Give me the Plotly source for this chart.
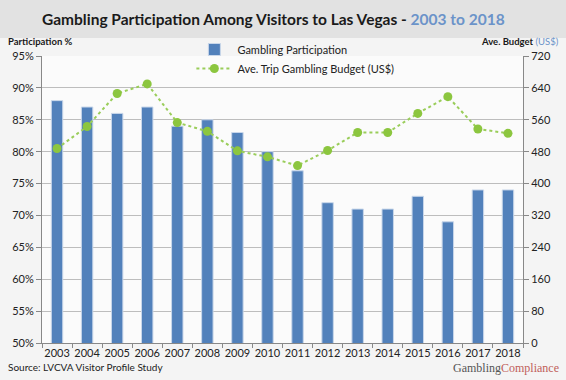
import plotly.graph_objects as go

years = [str(y) for y in range(2003, 2019)]
participation = [88, 87, 86, 87, 84, 85, 83, 80, 77, 72, 71, 71, 73, 69, 74, 74]
budget = [488, 543, 626, 650, 553, 531, 482, 467, 445, 483, 528, 528, 576, 618, 537, 526]
left_ticks = [50, 55, 60, 65, 70, 75, 80, 85, 90, 95]
left_labels = [f"{v}%" for v in left_ticks]
right_ticks = [0, 80, 160, 240, 320, 400, 480, 560, 640, 720]

FONT = "Lato"
PW = 483.0
PH = 287.0

fig = go.Figure()
fig.add_trace(go.Bar(
    x=years, y=participation, name="Gambling Participation",
    marker=dict(color="#5281bb", line=dict(color="#c9d7ea", width=1)),
    yaxis="y",
))
fig.add_trace(go.Scatter(
    x=years, y=budget, name="Ave. Trip Gambling Budget (US$)",
    mode="lines+markers",
    line=dict(color="#9acd5a", width=2, dash="dot"),
    marker=dict(color="#8cc63f", size=9),
    yaxis="y2",
))

fig.update_layout(
    width=566, height=380,
    margin=dict(l=40, r=43, t=56, b=37),
    paper_bgcolor="#f4f4f4",
    plot_bgcolor="#fbfbfb",
    font=dict(family=FONT, size=11, color="#222"),
    showlegend=True,
    bargap=0.62,
    legend=dict(
        x=150 / PW, xanchor="left", y=1 + 21 / PH, yanchor="top",
        bgcolor="rgba(0,0,0,0)", font=dict(size=11, color="#222"),
        traceorder="normal", tracegroupgap=0, itemwidth=36,
    ),
    xaxis=dict(
        type="category", range=[-0.5, len(years) - 0.5],
        showline=True, linecolor="#888", linewidth=1,
        ticks="outside", tickson="boundaries", ticklen=4, tickcolor="#888",
        tickfont=dict(size=11, color="#222"), showgrid=False, tickangle=0,
    ),
    yaxis=dict(
        range=[50, 95], tickvals=left_ticks, ticktext=left_labels,
        showline=True, linecolor="#888", ticks="outside", ticklen=5, tickcolor="#888",
        gridcolor="#bdbdbd", gridwidth=1, zeroline=False,
        tickfont=dict(size=11, color="#222"),
    ),
    yaxis2=dict(
        range=[0, 720], tickvals=right_ticks, overlaying="y", side="right",
        showline=True, linecolor="#888", ticks="outside", ticklen=5, tickcolor="#888",
        showgrid=False, zeroline=False,
        tickfont=dict(size=11, color="#222"),
    ),
    shapes=[dict(type="rect", xref="paper", yref="paper", x0=-0.2, x1=1.2,
                 y0=1 + 18 / PH, y1=1.3, fillcolor="#e2e2e2", line=dict(width=0),
                 layer="below")],
    annotations=[
        dict(text="<b>Gambling Participation Among Visitors to Las Vegas - <span style='color:#6b93c9'>2003 to 2018</span></b>",
             xref="paper", yref="paper", x=(272 - 40) / PW, y=1 + 37 / PH, xanchor="center", yanchor="middle",
             showarrow=False, font=dict(size=15.5, color="#1a1a1a", family=FONT)),
        dict(text="<b>Participation %</b>", xref="paper", yref="paper",
             x=-36 / PW, y=1 + 14 / PH, xanchor="left", yanchor="middle",
             showarrow=False, font=dict(size=9.5, color="#1a1a1a")),
        dict(text="<b>Ave. Budget</b> <span style='color:#6b93c9'>(US$)</span>", xref="paper", yref="paper",
             x=1 + 38 / PW, y=1 + 14 / PH, xanchor="right", yanchor="middle",
             showarrow=False, font=dict(size=9.5, color="#1a1a1a")),
        dict(text="Source: LVCVA Visitor Profile Study", xref="paper", yref="paper",
             x=-36 / PW, y=-24 / PH, xanchor="left", yanchor="middle",
             showarrow=False, font=dict(size=10, color="#222")),
        dict(text="<span style='color:#555'>Gambling</span><span style='color:#c0605a'>Compliance</span>",
             xref="paper", yref="paper", x=1 + 38 / PW, y=-25 / PH, xanchor="right", yanchor="middle",
             showarrow=False, font=dict(size=12, family="Liberation Serif")),
    ],
)

fig.write_html("out.html", config={"displayModeBar": False},
               post_script="document.body.style.margin='0';")
